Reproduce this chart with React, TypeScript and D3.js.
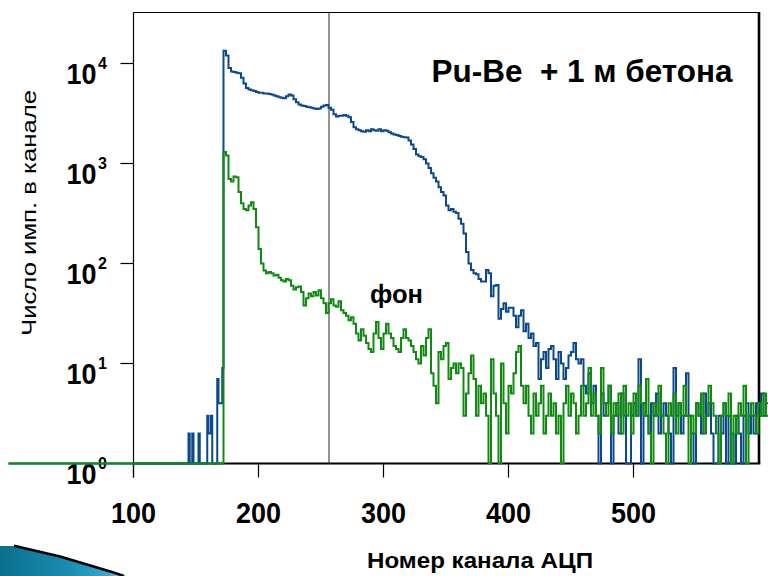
import React from 'react';
import * as d3 from 'd3';

const W = 768;
const H = 576;

// Axis ticks
const xTicks = [100, 200, 300, 400, 500];
const yTickExps = [0, 1, 2, 3, 4];

// Texts
const titleText = 'Pu-Be  + 1 м бетона';
const bgLabel = 'фон';
const xTitle = 'Номер канала АЦП';
const yTitle = 'Число имп. в канале';

// Marker line channel
const markerChannel = 256.4;

// Channel range of the spectra
const firstChannel = 0;
const binStart = 172;
const binWidth = 2;

// Sparse counts of the Pu-Be spectrum below threshold
const blueLowChannels = [144, 147, 152, 159, 160, 161, 162, 167, 168, 169, 170, 171];
const blueLowCounts = [2, 2, 2, 3, 2, 2, 3, 7, 4, 4, 4, 9];

// Pu-Be + 1 m concrete (counts per 2-channel bin from channel 172)
const blueCounts = [
  13400, 12000, 9000, 8300, 8200, 8100, 8000, 7200, 6300, 5700,
  5500, 5400, 5300, 5200, 5100, 5100, 5000, 5000, 4950, 4900,
  4800, 4700, 4600, 4550, 4500, 4700, 4900, 4800, 4400, 4100,
  3900, 3800, 3750, 3700, 3650, 3600, 3550, 3500, 3550, 3700,
  3800, 3850, 3600, 3450, 3100, 2950, 3000, 3000, 3050, 3000,
  2900, 2600, 2300, 2200, 2150, 2100, 2080, 2150, 2100, 2200,
  2150, 2130, 2200, 2100, 2150, 2120, 2050, 2000, 1950, 1930,
  1880, 1850, 1830, 1820, 1700, 1550, 1400, 1230, 1180, 1160,
  1100, 1000, 900, 800, 720, 660, 580, 520, 480, 380,
  340, 350, 330, 320, 280, 250, 200, 130, 100, 86,
  80, 78, 70, 66, 66, 86, 80, 47, 60, 61,
  28, 35, 40, 33, 36, 36, 30, 23, 30, 34,
  21, 25, 18, 20, 15, 16, 7, 11, 13, 9,
  14, 15, 11, 7, 13, 10, 7, 9, 12, 13,
  16, 11, 10, 11, 6, 5, 8, 4, 6, 3,
  1, 5, 3, 4, 6, 1, 3, 4, 2, 5,
  3, 1, 1, 3, 4, 3, 11, 1, 4, 3,
  2, 4, 3, 5, 2, 3, 4, 3, 2, 1,
  9, 3, 4, 2, 3, 8, 3, 2, 1, 4,
  3, 2, 5, 3, 4, 2, 1, 1, 3, 2,
  4, 1, 3, 2, 1, 3, 2, 1, 3, 4,
  2, 3, 2, 4, 3, 5, 3, 4,
];

// Background ("фон") spectrum (counts per 2-channel bin from channel 172)
const greenCounts = [
  1300, 1200, 700, 660, 740, 730, 520, 400, 350, 340,
  380, 410, 350, 230, 140, 100, 85, 80, 82, 80,
  76, 77, 72, 68, 66, 70, 68, 60, 55, 58,
  59, 52, 38, 45, 50, 47, 52, 48, 54, 45,
  40, 32, 40, 44, 38, 37, 42, 34, 32, 30,
  27, 29, 25, 20, 17, 22, 19, 16, 14, 13,
  20, 26, 18, 14, 20, 25, 20, 18, 15, 14,
  13, 18, 22, 18, 17, 15, 13, 11, 10, 15,
  12, 18, 22, 8, 6, 4, 13, 11, 15, 16,
  7, 9, 10, 8, 10, 9, 3, 5, 8, 12,
  7, 3, 6, 4, 5, 3, 1, 11, 5, 3,
  1, 10, 4, 2, 6, 5, 8, 13, 15, 6,
  4, 6, 3, 2, 5, 3, 4, 6, 2, 3,
  5, 3, 4, 2, 3, 1, 4, 6, 3, 5,
  4, 2, 3, 6, 3, 4, 9, 3, 5, 3,
  2, 9, 4, 3, 6, 2, 4, 3, 5, 2,
  6, 3, 4, 2, 5, 3, 6, 4, 3, 7,
  2, 1, 4, 3, 6, 3, 2, 1, 4, 3,
  5, 2, 4, 3, 6, 3, 1, 3, 2, 4,
  3, 5, 2, 3, 6, 4, 3, 2, 1, 3,
  4, 3, 5, 1, 3, 2, 4, 3, 6, 1,
  3, 4, 3, 2, 4, 3, 5, 3,
];

const BLUE = '#0a4890';
const GREEN = '#118a11';
const FONT = '"Liberation Sans", Arial, sans-serif';

function buildSeries(bins: number[], lowCh: number[], lowCounts: number[]): [number, number][] {
  const pts: [number, number][] = [];
  for (let ch = firstChannel; ch < binStart; ch++) {
    const k = lowCh.indexOf(ch);
    pts.push([ch, k >= 0 ? lowCounts[k] : 1]);
  }
  bins.forEach((v, i) => pts.push([binStart + i * binWidth, v]));
  pts.push([binStart + bins.length * binWidth, bins[bins.length - 1]]);
  return pts;
}

export default function App() {
  const x = d3.scaleLinear().domain([100, 600]).range([133.5, 758.5]);
  const y = d3.scaleLog().domain([1, Math.pow(10, 4.515)]).range([463.5, 12]);
  const line = d3
    .line<[number, number]>()
    .x((d) => x(d[0]))
    .y((d) => y(d[1]))
    .curve(d3.curveStepAfter);

  const blue = buildSeries(blueCounts, blueLowChannels, blueLowCounts);
  const green = buildSeries(greenCounts, [], []);

  const left = x(100);
  const right = 759;
  const top = 12.5;
  const bottom = y(1);

  return (
    <svg
      width={W}
      height={H}
      style={{ position: 'absolute', left: 0, top: 0, background: '#fff' }}
      fontFamily={FONT}
    >
      <defs>
        <linearGradient id="teal" x1="0" y1="0" x2="1" y2="0">
          <stop offset="0" stopColor="#0b6f8f" />
          <stop offset="0.55" stopColor="#1a8db0" />
          <stop offset="0.85" stopColor="#3aa9c8" />
          <stop offset="1" stopColor="#bfe8f2" />
        </linearGradient>
      </defs>
      <rect x={0} y={0} width={W} height={H} fill="#fff" />

      {/* decoration bottom-left */}
      <polygon points="0,546 18,546 60,557 112,572.5 128,576 0,576" fill="url(#teal)" />
      <path d="M14,545.8 L60,556.5 L112,572 L124,576" fill="none" stroke="#000" strokeWidth={2.6} />

      {/* marker line */}
      <line x1={x(markerChannel)} x2={x(markerChannel)} y1={top} y2={bottom} stroke="#888" strokeWidth={1.8} />

      {/* frame */}
      <line x1={left} x2={left} y1={top} y2={bottom + 14} stroke="#000" strokeWidth={1.2} />
      <line x1={left} x2={right} y1={top} y2={top} stroke="#000" strokeWidth={1.2} />
      <line x1={right} x2={right} y1={top - 0.6} y2={bottom} stroke="#000" strokeWidth={2.6} />
      <line x1={left} x2={right + 1.3} y1={bottom} y2={bottom} stroke="#000" strokeWidth={2} />

      {/* x ticks */}
      {xTicks.map((t) => (
        <g key={'xt' + t}>
          <line x1={x(t)} x2={x(t)} y1={bottom} y2={bottom + 14} stroke="#000" strokeWidth={1.2} />
          <text
            x={x(t)}
            y={523}
            textAnchor="middle"
            fontSize={29}
            fontWeight="bold"
            textLength={45}
            lengthAdjust="spacingAndGlyphs"
          >
            {t}
          </text>
        </g>
      ))}

      {/* y ticks */}
      {yTickExps.map((e) => {
        const yy = y(Math.pow(10, e));
        return (
          <g key={'yt' + e}>
            <line x1={left - 13} x2={left} y1={yy} y2={yy} stroke="#000" strokeWidth={1.2} />
            <text x={66.5} y={yy + 20} fontSize={29} fontWeight="bold" textLength={30} lengthAdjust="spacingAndGlyphs">
              10
            </text>
            <text x={98} y={yy + 5} fontSize={16} fontWeight="bold">
              {e}
            </text>
          </g>
        );
      })}

      {/* spectra */}
      <path d={line(blue) || ''} fill="none" stroke={BLUE} strokeWidth={2} />
      <path d={line(green) || ''} fill="none" stroke={GREEN} strokeWidth={2} />

      {/* labels */}
      <text x={431.5} y={81.5} fontSize={32} fontWeight="bold" textLength={301} lengthAdjust="spacingAndGlyphs" style={{ whiteSpace: 'pre' }}>
        {titleText}
      </text>
      <text x={370} y={303} fontSize={25} fontWeight="bold" textLength={53} lengthAdjust="spacingAndGlyphs">
        {bgLabel}
      </text>
      <text x={367} y={567.5} fontSize={22} fontWeight="bold" textLength={226} lengthAdjust="spacingAndGlyphs">
        {xTitle}
      </text>
      <text
        transform="translate(35.5,336) rotate(-90)"
        x={0}
        y={0}
        fontSize={19.5}
        textLength={246}
        lengthAdjust="spacingAndGlyphs"
      >
        {yTitle}
      </text>
    </svg>
  );
}
